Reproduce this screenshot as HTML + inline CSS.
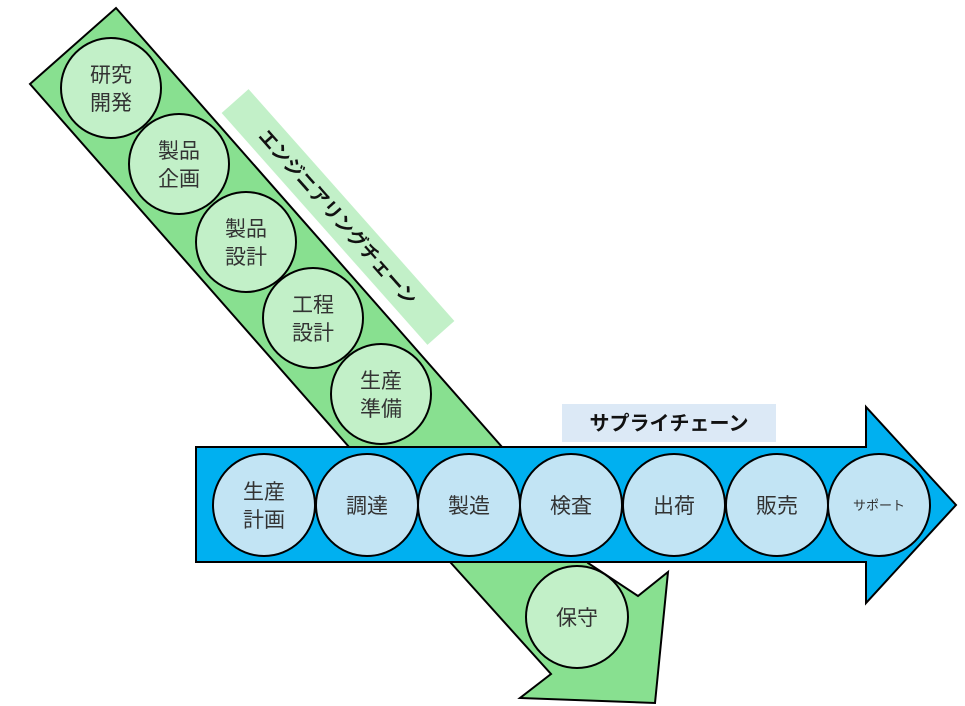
<!DOCTYPE html>
<html><head><meta charset="utf-8"><style>
html,body{margin:0;padding:0;background:#fff;}
svg{display:block;}
text{font-family:"Liberation Sans","Noto Sans CJK JP",sans-serif;fill:#333;}
</style></head><body>
<svg width="965" height="706" viewBox="0 0 965 706" xmlns="http://www.w3.org/2000/svg">
<polygon points="30,84 116,8 502,447 588,563 638,596 668,572 655,703 520,698 551,674 451,563" fill="#88e090" stroke="#000" stroke-width="2" stroke-linejoin="miter"/>
<g fill="#c2f0c8" stroke="#000" stroke-width="2">
<circle cx="111" cy="88" r="50"/>
<circle cx="179" cy="164" r="50"/>
<circle cx="246" cy="242" r="50"/>
<circle cx="313" cy="318" r="50"/>
<circle cx="381" cy="394" r="50"/>
</g>
<g font-size="21" text-anchor="middle">
<text x="111" y="82">研究</text><text x="111" y="110">開発</text>
<text x="179" y="158">製品</text><text x="179" y="186">企画</text>
<text x="246" y="236">製品</text><text x="246" y="264">設計</text>
<text x="313" y="312">工程</text><text x="313" y="340">設計</text>
<text x="381" y="388">生産</text><text x="381" y="416">準備</text>
</g>
<g transform="translate(338,217) rotate(48.4)">
<rect x="-155" y="-18" width="310" height="36" fill="#c2f0c8"/>
<text x="0" y="7" font-size="19" font-weight="bold" text-anchor="middle" style="fill:#111">エンジニアリングチェーン</text>
</g>
<polygon points="196,447 866,447 866,407 956,505 866,603 866,562 196,562" fill="#00b0f0" stroke="#000" stroke-width="2"/>
<g fill="#c2e4f4" stroke="#000" stroke-width="2">
<circle cx="264" cy="505" r="51"/>
<circle cx="367" cy="505" r="51"/>
<circle cx="469" cy="505" r="51"/>
<circle cx="571" cy="505" r="51"/>
<circle cx="674" cy="505" r="51"/>
<circle cx="777" cy="505" r="51"/>
<circle cx="879" cy="505" r="51"/>
</g>
<g font-size="21" text-anchor="middle">
<text x="264" y="499">生産</text><text x="264" y="527">計画</text>
<text x="367" y="513">調達</text>
<text x="469" y="513">製造</text>
<text x="571" y="513">検査</text>
<text x="674" y="513">出荷</text>
<text x="777" y="513">販売</text>
<text x="879" y="510" font-size="13">サポート</text>
</g>
<circle cx="577" cy="617" r="51" fill="#c2f0c8" stroke="#000" stroke-width="2"/>
<text x="577" y="625" font-size="21" text-anchor="middle">保守</text>
<rect x="562" y="404" width="214" height="38" fill="#dce9f6"/>
<text x="669" y="430" font-size="20" font-weight="bold" text-anchor="middle" style="fill:#111">サプライチェーン</text>
</svg>
</body></html>
